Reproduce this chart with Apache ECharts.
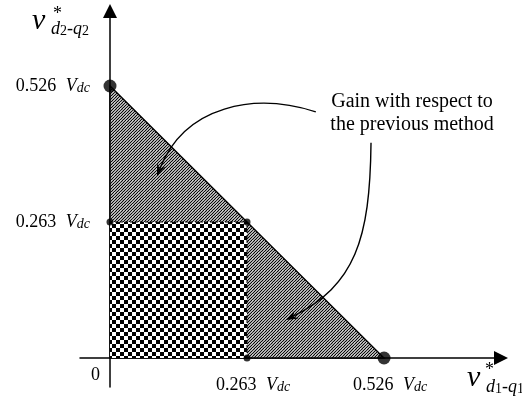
<!DOCTYPE html>
<html>
<head>
<meta charset="utf-8">
<script src="https://cdn.jsdelivr.net/npm/echarts@6/dist/echarts.min.js"></script>
<style>
html, body { margin: 0; padding: 0; background: #fff; }
#chart { width: 522px; height: 407px; }
</style>
</head>
<body>
<div id="chart"></div>
<script>
// voltage limits, in units of Vdc
const tickValues = [0.263, 0.526];
const triangle = [[0, 0], [0.526, 0], [0, 0.526]];
const square = [[0, 0], [0.263, 0], [0.263, 0.263], [0, 0.263]];
const dashedEdge = [[0, 0.263], [0.263, 0.263], [0.263, 0]];
const bigDots = [[0, 0.526], [0.526, 0]];
const smallDots = [[0, 0.263], [0.263, 0.263], [0.263, 0]];
const noteLines = ['Gain with respect to', 'the previous method'];

// annotation arrows (start, ctrl1, ctrl2, tip), same units as the axes
const arrows = [
    [[0.395, 0.476], [0.278, 0.514], [0.144, 0.489], [0.090, 0.352]],
    [[0.501, 0.416], [0.499, 0.228], [0.470, 0.141], [0.338, 0.0735]]
];

const FONT = 'Liberation Serif';

function makeHatch() {
    const c = document.createElement('canvas');
    c.width = 6; c.height = 6;
    const g = c.getContext('2d');
    g.fillStyle = '#fff';
    g.fillRect(0, 0, 6, 6);
    g.strokeStyle = '#000';
    g.lineWidth = 1.2;
    for (let k = -6; k <= 18; k += 3) {
        g.beginPath();
        g.moveTo(k, 0);
        g.lineTo(k - 12, 12);
        g.stroke();
    }
    return c;
}

function makeChecker() {
    const c = document.createElement('canvas');
    c.width = 8; c.height = 8;
    const g = c.getContext('2d');
    g.fillStyle = '#000';
    g.fillRect(0, 0, 8, 8);
    g.fillStyle = '#fff';
    g.fillRect(4, 0, 4, 4);
    g.fillRect(0, 4, 4, 4);
    return c;
}

const hatch = { image: makeHatch(), repeat: 'repeat' };
const checker = { image: makeChecker(), repeat: 'repeat' };

function tickRich(shift) {
    return {
        n: { fontFamily: FONT, fontSize: 18, color: '#000', verticalAlign: 'top', lineHeight: 18, padding: [0, 0, 0, shift] },
        v: { fontFamily: FONT, fontSize: 18, fontStyle: 'italic', color: '#000', verticalAlign: 'top', lineHeight: 18, padding: [0, 0, 0, 5] },
        s: { fontFamily: FONT, fontSize: 14, fontStyle: 'italic', color: '#000', verticalAlign: 'bottom', lineHeight: 14, padding: [7, 0, 0, 0] }
    };
}
const fmt = v => '{n|' + v.toFixed(3) + ' }{v|V}{s|dc}';

const subRich = {
    a: { fontFamily: FONT, fontStyle: 'italic', fontSize: 18, color: '#000', verticalAlign: 'top', lineHeight: 18 },
    b: { fontFamily: FONT, fontSize: 14, color: '#000', verticalAlign: 'bottom', lineHeight: 14, padding: [11, 0, 0, 0] }
};

const chart = echarts.init(document.getElementById('chart'));

function polygonItem(pts, fill, stroke) {
    return function (params, api) {
        return {
            type: 'polygon',
            shape: { points: pts.map(p => api.coord(p)) },
            style: { fill: fill, stroke: stroke, lineWidth: 1.4 }
        };
    };
}

function arrowItem(params, api) {
    const a = arrows[params.dataIndex].map(p => api.coord(p));
    const tip = a[3], c2 = a[2];
    let dx = tip[0] - c2[0], dy = tip[1] - c2[1];
    const len = Math.sqrt(dx * dx + dy * dy);
    dx /= len; dy /= len;
    const L = 12, W = 4.5;
    const bx = tip[0] - dx * L, by = tip[1] - dy * L;
    const nx = tip[0] - dx * L * 0.65, ny = tip[1] - dy * L * 0.65;
    return {
        type: 'group',
        children: [{
            type: 'bezierCurve',
            shape: {
                x1: a[0][0], y1: a[0][1], cpx1: a[1][0], cpy1: a[1][1],
                cpx2: a[2][0], cpy2: a[2][1], x2: nx, y2: ny
            },
            style: { stroke: '#000', lineWidth: 1.4, fill: null }
        }, {
            type: 'polygon',
            shape: { points: [tip, [bx - dy * W, by + dx * W], [nx, ny], [bx + dy * W, by - dx * W]] },
            style: { fill: '#000' }
        }]
    };
}

// labels sit at the grid edge (not at the zero line), hence the negative margins
chart.setOption({
    animation: false,
    backgroundColor: '#fff',
    grid: { left: 80, right: 21, top: 11, bottom: 20, containLabel: false, outerBoundsMode: 'none' },
    xAxis: {
        type: 'value', min: -0.0576, max: 0.7505,
        splitLine: { show: false },
        axisTick: { show: false },
        axisLine: { onZero: true, symbol: ['none', 'triangle'], symbolSize: [14, 14], lineStyle: { color: '#000', width: 1.5 } },
        axisLabel: { customValues: tickValues, margin: -11, formatter: fmt, rich: tickRich(12) }
    },
    yAxis: {
        type: 'value', min: -0.0561, max: 0.671,
        splitLine: { show: false },
        axisTick: { show: false },
        axisLine: { onZero: true, symbol: ['none', 'triangle'], symbolSize: [14, 14], lineStyle: { color: '#000', width: 1.5 } },
        axisLabel: { customValues: tickValues, margin: -10, formatter: fmt, rich: tickRich(0) }
    },
    graphic: [
        { type: 'text', x: 91, y: 366, style: { text: '0', font: '18px "' + FONT + '"', fill: '#000' } },
        { type: 'text', x: 412, y: 90, style: { text: noteLines.join('\n'), font: '20px "' + FONT + '"', fill: '#000', align: 'center', lineHeight: 23 } },
        { type: 'text', x: 32, y: 6, style: { text: 'v', font: 'italic 30px "' + FONT + '"', fill: '#000' } },
        { type: 'text', x: 53, y: 5, style: { text: '*', font: '18px "' + FONT + '"', fill: '#000' } },
        { type: 'text', x: 51, y: 20.5, style: { text: '{a|d}{b|2}{a|-q}{b|2}', rich: subRich } },
        { type: 'text', x: 467, y: 363.5, style: { text: 'v', font: 'italic 30px "' + FONT + '"', fill: '#000' } },
        { type: 'text', x: 485, y: 361, style: { text: '*', font: '18px "' + FONT + '"', fill: '#000' } },
        { type: 'text', x: 486, y: 378.5, style: { text: '{a|d}{b|1}{a|-q}{b|1}', rich: subRich } }
    ],
    series: [
        { type: 'custom', z: 1, silent: true, data: [[0, 0]], renderItem: polygonItem(triangle, hatch, '#000') },
        { type: 'custom', z: 2, silent: true, data: [[0, 0]], renderItem: polygonItem(square, checker, null) },
        {
            type: 'line', z: 3, data: dashedEdge, symbol: 'none',
            lineStyle: { color: '#000', width: 1, type: [3, 2] }
        },
        { type: 'custom', z: 4, silent: true, data: arrows.map((a, i) => [i, 0]), renderItem: arrowItem },
        { type: 'scatter', z: 5, data: bigDots, symbolSize: 13, itemStyle: { color: '#000' } },
        { type: 'scatter', z: 5, data: smallDots, symbolSize: 7, itemStyle: { color: '#000' } }
    ]
});
</script>
</body>
</html>
